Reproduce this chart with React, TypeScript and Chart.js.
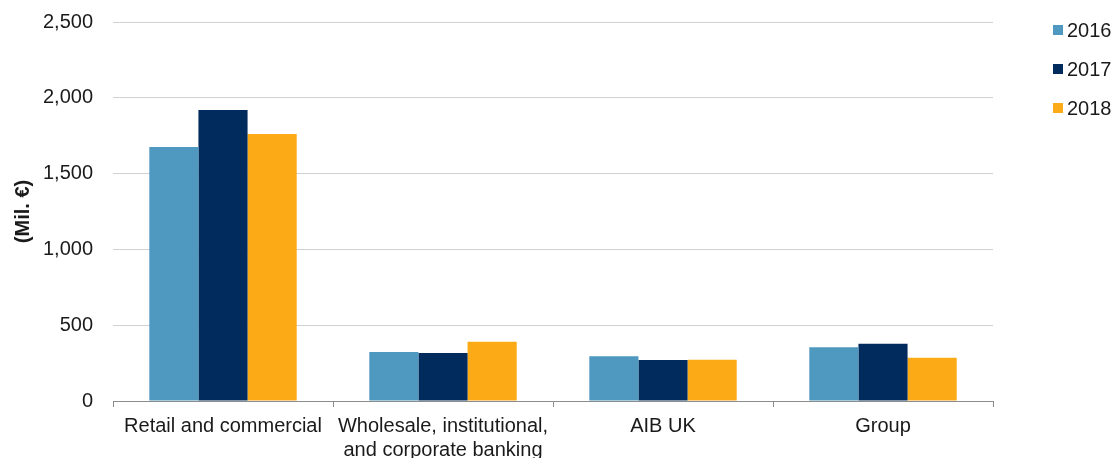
import React, { useEffect, useRef } from "react";
import { Chart, registerables } from "chart.js";

Chart.register(...registerables);

const categories: (string | string[])[] = [
  "Retail and commercial",
  ["Wholesale, institutional,", "and corporate banking"],
  "AIB UK",
  "Group",
];
const seriesNames = ["2016", "2017", "2018"];
const values2016 = [1675, 323, 295, 354];
const values2017 = [1920, 317, 270, 378];
const values2018 = [1761, 391, 272, 286];
const colors = ["#4f99c1", "#002b5c", "#fdaa17"];
const yTicks = [0, 500, 1000, 1500, 2000, 2500];

const FONT = "'Liberation Sans', Arial, sans-serif";

export default function App() {
  const ref = useRef<HTMLCanvasElement | null>(null);
  useEffect(() => {
    if (!ref.current) return;
    const chart = new Chart(ref.current, {
      type: "bar",
      data: {
        labels: categories,
        datasets: [values2016, values2017, values2018].map((d, i) => ({
          label: seriesNames[i],
          data: d,
          backgroundColor: colors[i],
          categoryPercentage: 0.67,
          barPercentage: 1,
        })),
      },
      options: {
        animation: false,
        responsive: false,
        maintainAspectRatio: false,
        layout: { padding: { top: 22, right: 122, left: 0, bottom: 0 } },
        plugins: { legend: { display: false }, tooltip: { enabled: false } },
        scales: {
          x: {
            grid: {
              display: true,
              drawOnChartArea: false,
              drawTicks: true,
              tickLength: 6,
              color: "#8c8c8c",
              offset: true,
            },
            border: { display: true, color: "#8c8c8c" },
            ticks: {
              color: "#1a1a1a",
              font: { family: FONT, size: 20, lineHeight: 1.2 },
              padding: 7,
              maxRotation: 0,
              autoSkip: false,
            },
            afterFit: (s: any) => {
              s.height = 57;
            },
          },
          y: {
            min: 0,
            max: 2500,
            afterBuildTicks: (s: any) => {
              s.ticks = yTicks.map((v) => ({ value: v }));
            },
            grid: { color: "#d0d0d0", drawTicks: true, tickLength: 20, tickColor: "rgba(0,0,0,0)" },
            border: { display: false },
            ticks: {
              color: "#1a1a1a",
              font: { family: FONT, size: 20 },
              padding: 0,
              callback: (v: any) => Number(v).toLocaleString("en-US"),
            },
            title: {
              display: true,
              text: "(Mil. €)",
              color: "#1a1a1a",
              font: { family: FONT, size: 20, weight: "bold" },
              padding: { top: 11, bottom: 0 },
            },
            afterFit: (s: any) => {
              s.width = 113;
            },
          },
        },
      },
    });
    return () => chart.destroy();
  }, []);

  return (
    <div style={{ position: "fixed", left: 0, top: 0, width: 1115, height: 458, background: "#fff" }}>
      <canvas ref={ref} width={1115} height={458} style={{ width: 1115, height: 458 }} />
      {seriesNames.map((n, i) => (
        <div
          key={n}
          style={{
            position: "absolute",
            left: 1053,
            top: 30 + i * 39 - 12,
            height: 24,
            display: "flex",
            alignItems: "center",
            fontFamily: FONT,
            fontSize: 20,
            color: "#1a1a1a",
          }}
        >
          <span style={{ display: "inline-block", width: 10, height: 10, background: colors[i], marginRight: 4 }} />
          <span>{n}</span>
        </div>
      ))}
    </div>
  );
}
